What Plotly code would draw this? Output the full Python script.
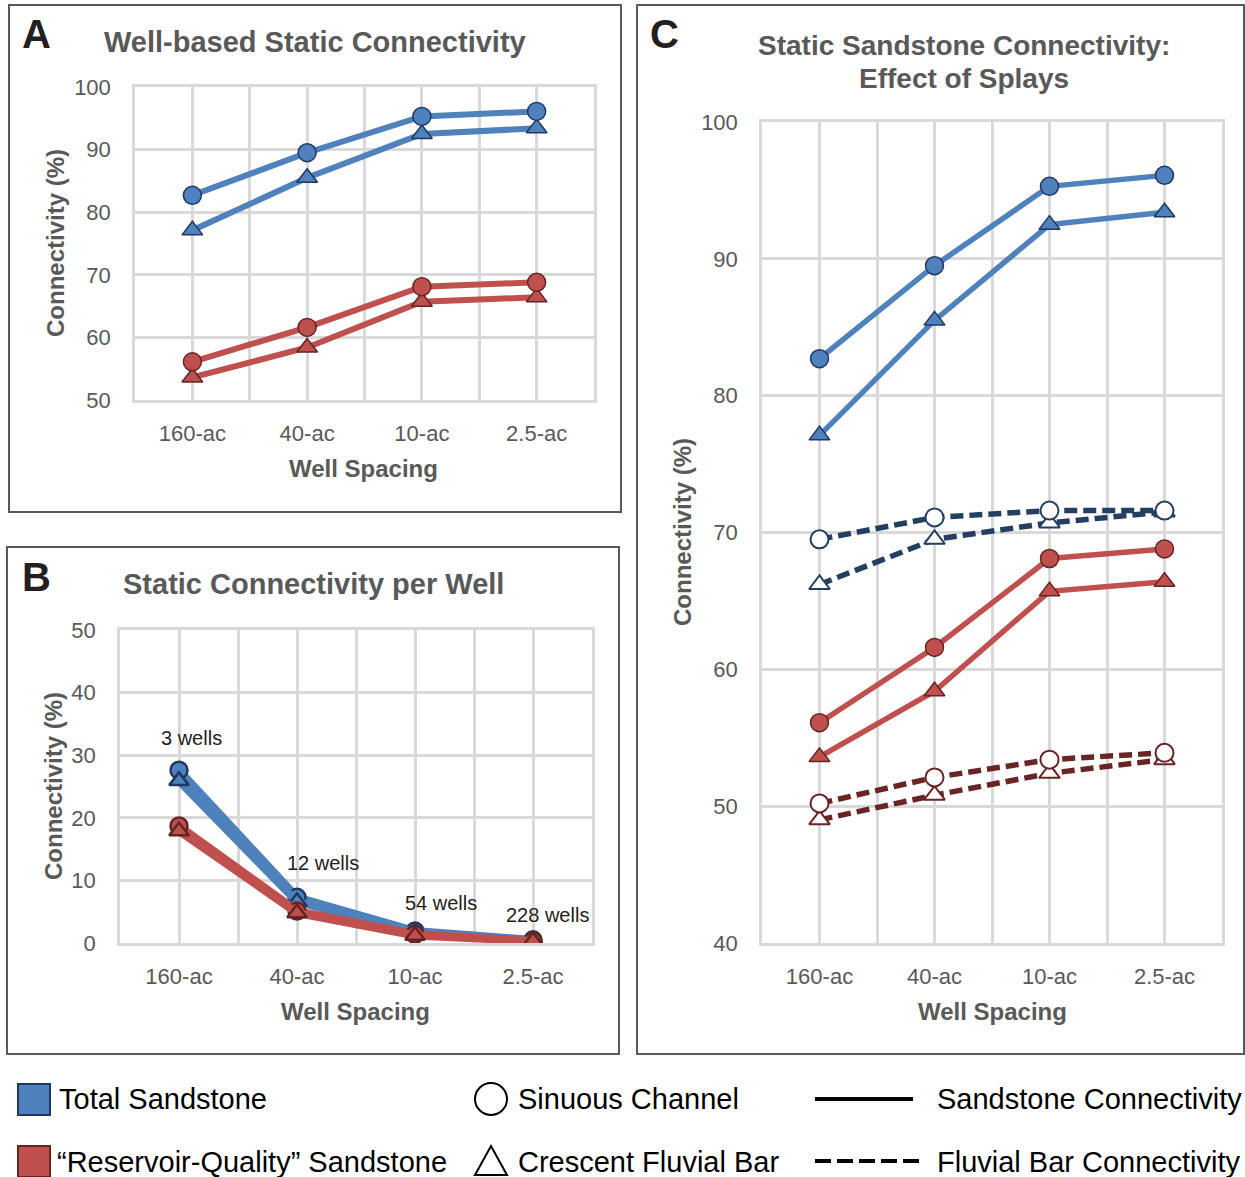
import plotly.graph_objects as go

W, H = 1245, 1177

# ---------------- data ----------------
spacing = ["160-ac", "40-ac", "10-ac", "2.5-ac"]
wells = ["3 wells", "12 wells", "54 wells", "228 wells"]

# Panel A / C: connectivity (%)
total_channel = [82.7, 89.5, 95.3, 96.1]
total_bar = [77.1, 85.5, 92.5, 93.4]
rq_channel = [56.1, 61.6, 68.1, 68.8]
rq_bar = [53.6, 58.4, 65.7, 66.4]

# Panel C: fluvial bar connectivity (dashed)
fb_total_channel = [69.5, 71.1, 71.6, 71.6]
fb_total_bar = [66.2, 69.5, 70.7, 71.5]
fb_rq_channel = [50.2, 52.1, 53.4, 53.9]
fb_rq_bar = [49.0, 50.8, 52.4, 53.4]

# Panel B: connectivity per well (%)
pw_total_channel = [27.6, 7.3, 1.9, 0.5]
pw_total_bar = [25.9, 6.6, 1.7, 0.4]
pw_rq_channel = [18.7, 5.1, 1.4, 0.3]
pw_rq_bar = [17.9, 4.8, 1.2, 0.3]

# ---------------- styles ----------------
BLUE = "#4F81BD"
BLUE_EDGE = "#1F3864"
RED = "#C0504D"
RED_EDGE = "#632523"
NAVY = "#243F60"
DRED = "#6B2424"
GRID = "#D9D9D9"
GRAY = "#595959"
FONT = "Liberation Sans, Arial, sans-serif"

xs = list(range(len(spacing)))

def px(x):
    return x / W

def py(y):
    return 1 - y / H

fig = go.Figure()

def solid(xa, ya, y, color, edge, symbol, lw, ms, ew=1.5):
    fig.add_trace(go.Scatter(
        x=xs, y=y, xaxis=xa, yaxis=ya, mode="lines+markers",
        line=dict(color=color, width=lw),
        marker=dict(symbol=symbol, size=ms, color=color, line=dict(color=edge, width=ew)),
        showlegend=False, hoverinfo="skip"))

def dashed(xa, ya, y, color, symbol, ms):
    fig.add_trace(go.Scatter(
        x=xs, y=y, xaxis=xa, yaxis=ya, mode="lines+markers",
        line=dict(color=color, width=5.5, dash="13px,6px"),
        marker=dict(symbol=symbol, size=ms, color="white", line=dict(color=color, width=2)),
        showlegend=False, hoverinfo="skip"))

# Panel A
solid("x", "y", total_bar, BLUE, BLUE_EDGE, "triangle-up", 6, 18)
solid("x", "y", total_channel, BLUE, BLUE_EDGE, "circle", 6, 18)
solid("x", "y", rq_bar, RED, RED_EDGE, "triangle-up", 6, 18)
solid("x", "y", rq_channel, RED, RED_EDGE, "circle", 6, 18)

# Panel B
solid("x2", "y2", pw_total_channel, BLUE, BLUE_EDGE, "circle", 8, 17, 2.5)
solid("x2", "y2", pw_total_bar, BLUE, BLUE_EDGE, "triangle-up", 8, 17, 2.5)
solid("x2", "y2", pw_rq_channel, RED, RED_EDGE, "circle", 8, 17, 2.5)
solid("x2", "y2", pw_rq_bar, RED, RED_EDGE, "triangle-up", 8, 17, 2.5)

# Panel C
solid("x3", "y3", total_bar, BLUE, BLUE_EDGE, "triangle-up", 5.5, 18)
solid("x3", "y3", total_channel, BLUE, BLUE_EDGE, "circle", 5.5, 18)
solid("x3", "y3", rq_bar, RED, RED_EDGE, "triangle-up", 5.5, 18)
solid("x3", "y3", rq_channel, RED, RED_EDGE, "circle", 5.5, 18)
dashed("x3", "y3", fb_total_bar, NAVY, "triangle-up", 18)
dashed("x3", "y3", fb_total_channel, NAVY, "circle", 18)
dashed("x3", "y3", fb_rq_bar, DRED, "triangle-up", 18)
dashed("x3", "y3", fb_rq_channel, DRED, "circle", 18)

def xaxis(dom):
    return dict(domain=dom, range=[-0.5, 3.5], tickmode="array", tickvals=xs, ticktext=spacing,
                showgrid=True, gridcolor=GRID, gridwidth=2.5, zeroline=False,
                showline=True, mirror=True, linecolor=GRID, linewidth=2.5,
                minor=dict(tickmode="linear", tick0=-0.5, dtick=1, showgrid=True, gridcolor=GRID, gridwidth=2.5),
                tickfont=dict(family=FONT, size=22, color=GRAY), ticks="", ticklabelstandoff=12,
                automargin=False, fixedrange=True)

def yaxis(dom, rng, dtick, anchor):
    return dict(domain=dom, range=rng, dtick=dtick, tick0=rng[0], anchor=anchor,
                showgrid=True, gridcolor=GRID, gridwidth=2.5, zeroline=False,
                showline=True, mirror=True, linecolor=GRID, linewidth=2.5,
                tickfont=dict(family=FONT, size=22, color=GRAY), ticks="", ticklabelstandoff=17,
                automargin=False, fixedrange=True)

fig.update_layout(
    width=W, height=H, autosize=False,
    margin=dict(l=0, r=0, t=0, b=0, pad=0),
    paper_bgcolor="white", plot_bgcolor="white",
    xaxis=dict(xaxis([px(135), px(594)]), anchor="y"),
    yaxis=yaxis([py(400), py(87)], [50, 100], 10, "x"),
    xaxis2=dict(xaxis([px(120), px(592)]), anchor="y2"),
    yaxis2=yaxis([py(943), py(630)], [0, 50], 10, "x2"),
    xaxis3=dict(xaxis([px(762), px(1222)]), anchor="y3"),
    yaxis3=yaxis([py(943), py(122)], [40, 100], 10, "x3"),
)

shapes = []
# panel borders
for (x0, y0, x1, y1) in [(9, 5, 621, 512), (7, 547, 619, 1054), (637, 5, 1244, 1054)]:
    shapes.append(dict(type="rect", xref="paper", yref="paper",
                       x0=px(x0), x1=px(x1), y0=py(y0), y1=py(y1),
                       line=dict(color="#5A5A5A", width=2), fillcolor="rgba(0,0,0,0)"))
# legend swatches
shapes.append(dict(type="rect", xref="paper", yref="paper", x0=px(18), x1=px(50), y0=py(1084), y1=py(1115),
                   fillcolor=BLUE, line=dict(color=BLUE_EDGE, width=2)))
shapes.append(dict(type="rect", xref="paper", yref="paper", x0=px(18), x1=px(50), y0=py(1146), y1=py(1177),
                   fillcolor=RED, line=dict(color=RED_EDGE, width=2)))
shapes.append(dict(type="circle", xref="paper", yref="paper", x0=px(475), x1=px(507), y0=py(1083), y1=py(1115),
                   fillcolor="white", line=dict(color="black", width=2)))
shapes.append(dict(type="path", xref="paper", yref="paper",
                   path=f"M {px(475)} {py(1175)} L {px(491)} {py(1146)} L {px(507)} {py(1175)} Z",
                   fillcolor="white", line=dict(color="black", width=2)))
shapes.append(dict(type="line", xref="paper", yref="paper", x0=px(815), x1=px(913), y0=py(1099), y1=py(1099),
                   line=dict(color="black", width=4)))
shapes.append(dict(type="line", xref="paper", yref="paper", x0=px(815), x1=px(921), y0=py(1161), y1=py(1161),
                   line=dict(color="black", width=4, dash="16px,6px")))
fig.update_layout(shapes=shapes)

ann = []

def text(x, y, s, size, color="black", bold=False, xanchor="center", angle=0):
    if bold:
        s = f"<b>{s}</b>"
    ann.append(dict(xref="paper", yref="paper", x=px(x), y=py(y), text=s, showarrow=False,
                    xanchor=xanchor, yanchor="middle", textangle=angle,
                    font=dict(family=FONT, size=size, color=color)))

# panel letters
text(36, 34, "A", 40, "#231F20", True)
text(36, 577, "B", 40, "#231F20", True)
text(664, 34, "C", 40, "#231F20", True)
# titles
text(315, 42, "Well-based Static Connectivity", 29, GRAY, True)
text(313, 584, "Static Connectivity per Well", 29, GRAY, True)
text(964, 46, "Static Sandstone Connectivity:", 28, GRAY, True)
text(964, 79, "Effect of Splays", 28, GRAY, True)
# axis titles
text(55, 243, "Connectivity (%)", 24, GRAY, True, angle=-90)
text(53, 786, "Connectivity (%)", 24, GRAY, True, angle=-90)
text(683, 532, "Connectivity (%)", 24, GRAY, True, angle=-90)
text(363, 468, "Well Spacing", 24, GRAY, True)
text(355, 1011, "Well Spacing", 24, GRAY, True)
text(992, 1011, "Well Spacing", 24, GRAY, True)

# well count labels (panel B)
offsets = [(12, 32), (26, 34), (26, 28), (14, 25)]
for i, lab in enumerate(wells):
    ann.append(dict(xref="x2", yref="y2", x=xs[i], y=pw_total_channel[i], text=lab, showarrow=False,
                    xshift=offsets[i][0], yshift=offsets[i][1], xanchor="center", yanchor="middle",
                    font=dict(family=FONT, size=20, color="#231F20")))

# legend texts
text(57, 1099, "Total Sandstone", 29, "black", xanchor="left")
text(55, 1162, "\u201cReservoir-Quality\u201d Sandstone", 29, "black", xanchor="left")
text(516, 1099, "Sinuous Channel", 29, "black", xanchor="left")
text(516, 1162, "Crescent Fluvial Bar", 29, "black", xanchor="left")
text(935, 1099, "Sandstone Connectivity", 29, "black", xanchor="left")
text(935, 1162, "Fluvial Bar Connectivity", 29, "black", xanchor="left")

fig.update_layout(annotations=ann)

fig.write_html("out.html")
